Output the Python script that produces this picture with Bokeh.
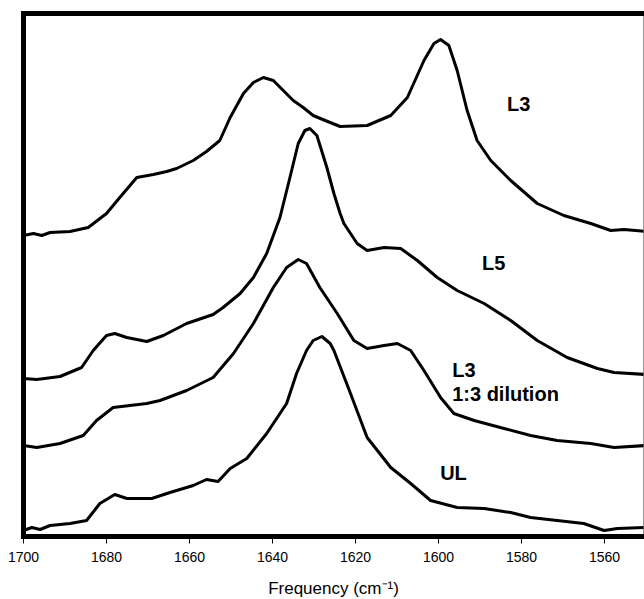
from bokeh.plotting import figure
from bokeh.models import Range1d, LinearAxis, FixedTicker, Label
from bokeh.layouts import column
from bokeh.embed import file_html
from bokeh.resources import INLINE

# ---- data (wavenumber in cm-1, intensity in arbitrary stacked units) ----
l3_freq = [1700, 1697.6, 1695.6, 1693.6, 1688.8, 1684.4, 1680.0, 1676.8, 1672.7, 1668.7,
           1665.5, 1663.1, 1659.1, 1655.9, 1652.7, 1650.2, 1647.0, 1644.6, 1642.2, 1639.8,
           1637.4, 1635.0, 1632.6, 1630.2, 1627.3, 1623.7, 1617.2, 1611.5, 1607.5, 1603.5,
           1601.1, 1599.5, 1597.5, 1595.5, 1593.1, 1590.7, 1587.4, 1582.6, 1576.2, 1569.8,
           1563.3, 1558.5, 1555.3, 1550]
l3_int = [3.01, 3.03, 3.01, 3.04, 3.05, 3.09, 3.23, 3.39, 3.59, 3.62,
          3.65, 3.68, 3.76, 3.85, 3.96, 4.19, 4.43, 4.54, 4.59, 4.56,
          4.46, 4.36, 4.29, 4.21, 4.16, 4.10, 4.11, 4.21, 4.39, 4.76,
          4.93, 4.97, 4.91, 4.66, 4.26, 3.96, 3.76, 3.56, 3.33, 3.21,
          3.13, 3.06, 3.07, 3.05]

l5_freq = [1700, 1696.8, 1691.2, 1686.0, 1683.2, 1680.0, 1678.0, 1675.1, 1670.3, 1666.3,
           1660.7, 1654.3, 1651.9, 1647.8, 1644.6, 1641.4, 1638.2, 1635.8, 1633.8, 1632.2,
           1631.0, 1629.3, 1626.9, 1625.2, 1623.7, 1622.8, 1619.6, 1617.2, 1613.1, 1609.1,
           1605.1, 1600.3, 1595.5, 1589.0, 1582.6, 1576.2, 1569.0, 1561.7, 1557.7, 1550]
l5_int = [1.58, 1.57, 1.60, 1.69, 1.86, 2.01, 2.03, 1.99, 1.95, 2.01,
          2.13, 2.22, 2.29, 2.43, 2.59, 2.83, 3.19, 3.59, 3.93, 4.06,
          4.08, 4.01, 3.69, 3.43, 3.23, 3.13, 2.93, 2.86, 2.89, 2.88,
          2.76, 2.59, 2.46, 2.33, 2.16, 1.96, 1.79, 1.68, 1.64, 1.62]

dil_freq = [1700, 1696.8, 1691.2, 1685.6, 1682.4, 1678.4, 1670.3, 1667.1, 1660.7, 1654.3,
            1649.4, 1644.6, 1639.8, 1636.6, 1633.8, 1631.8, 1628.6, 1624.4, 1620.4,
            1617.2, 1613.1, 1609.9, 1606.7, 1603.5, 1599.5, 1596.3, 1591.4, 1584.2, 1577.8,
            1571.4, 1563.3, 1557.7, 1550]
dil_int = [0.91, 0.89, 0.93, 1.01, 1.16, 1.29, 1.33, 1.36, 1.46, 1.59,
           1.83, 2.13, 2.49, 2.69, 2.77, 2.73, 2.49, 2.23, 1.96,
           1.88, 1.91, 1.93, 1.86, 1.66, 1.39, 1.23, 1.16, 1.08, 1.01,
           0.96, 0.93, 0.89, 0.91]

ul_freq = [1700, 1698.0, 1696.0, 1693.6, 1688.8, 1684.8, 1681.6, 1678.0, 1675.1, 1669.1,
           1664.7, 1659.1, 1655.9, 1653.1, 1650.2, 1646.2, 1641.4, 1636.6, 1634.2, 1631.8,
           1630.2, 1628.1, 1626.1, 1625.2, 1621.2, 1617.2, 1611.5, 1606.7, 1601.9, 1595.5,
           1589.0, 1582.6, 1577.8, 1571.4, 1565.0, 1560.1, 1556.9, 1550]
ul_int = [0.06, 0.09, 0.07, 0.11, 0.13, 0.16, 0.33, 0.42, 0.38, 0.38,
          0.44, 0.51, 0.57, 0.55, 0.68, 0.78, 1.03, 1.33, 1.63, 1.86,
          1.96, 2.00, 1.93, 1.86, 1.43, 0.99, 0.69, 0.53, 0.36, 0.29,
          0.28, 0.24, 0.19, 0.16, 0.13, 0.06, 0.08, 0.09]

x_ticks = [1700, 1680, 1660, 1640, 1620, 1600, 1580, 1560]
x_title = "Frequency (cm\u207b\u00b9)"

FONT = "Liberation Sans"
W = 644
BORDER_L, BORDER_R = 23, 1

p = figure(width=W, height=570,
           x_range=Range1d(1700, 1550.6), y_range=Range1d(0, 5.23),
           output_backend="svg", toolbar_location=None,
           min_border_left=BORDER_L, min_border_right=BORDER_R,
           min_border_top=13, min_border_bottom=34)

p.xgrid.visible = False
p.ygrid.visible = False
p.outline_line_color = "#9a9a9a"
p.outline_line_width = 1
p.background_fill_color = "white"
p.border_fill_color = "white"

# bottom axis
xa = p.xaxis[0]
xa.ticker = FixedTicker(ticks=x_ticks)
xa.axis_line_width = 5
xa.axis_line_color = "black"
xa.axis_line_cap = "square"
xa.major_tick_in = 0
xa.major_tick_out = 7
xa.major_tick_line_color = "black"
xa.major_tick_line_width = 1
xa.minor_tick_line_color = None
xa.major_label_text_font = FONT
xa.major_label_text_font_size = "14px"
xa.major_label_text_color = "black"
xa.major_label_standoff = 8


def bare(ax):
    ax.ticker = FixedTicker(ticks=[])
    ax.axis_line_width = 5
    ax.axis_line_color = "black"
    ax.axis_line_cap = "square"
    ax.major_tick_line_color = None
    ax.minor_tick_line_color = None
    ax.major_tick_in = 0
    ax.major_tick_out = 0
    ax.minor_tick_in = 0
    ax.minor_tick_out = 0
    ax.major_label_standoff = 0


bare(p.yaxis[0])
top_axis = LinearAxis()
bare(top_axis)
p.add_layout(top_axis, "above")

for fx, iy in [(l3_freq, l3_int), (l5_freq, l5_int), (dil_freq, dil_int), (ul_freq, ul_int)]:
    p.line(fx, iy, line_color="black", line_width=3, line_join="round", line_cap="round")

labels = [("L3", 1583.5, 4.33), ("L5", 1589.5, 2.74), ("L3", 1596.7, 1.67),
          ("1:3 dilution", 1596.7, 1.43), ("UL", 1599.6, 0.64)]
for t, lx, ly in labels:
    p.add_layout(Label(x=lx, y=ly, text=t, text_font=FONT, text_font_size="20px",
                       text_font_style="bold", text_color="black",
                       text_baseline="alphabetic", text_align="left"))

# strip below holding the x-axis title; the column aligns its frame with the
# plot frame above, so centre it on the frame width
TH = 29
t = figure(width=W, height=TH, x_range=Range1d(0, W), y_range=Range1d(0, TH),
           output_backend="svg", toolbar_location=None,
           x_axis_type=None, y_axis_type=None,
           min_border_left=0, min_border_right=0, min_border_top=0, min_border_bottom=0)
t.xgrid.visible = False
t.ygrid.visible = False
t.outline_line_color = None
t.background_fill_color = "white"
t.border_fill_color = "white"
t.add_layout(Label(x=(W - BORDER_L - BORDER_R) / 2, y=TH - 18,
                   x_units="screen", y_units="screen", text=x_title,
                   text_font=FONT, text_font_size="17px", text_color="black",
                   text_align="center", text_baseline="middle"))

layout = column(p, t, spacing=0)
open("out.html", "w").write(file_html(layout, INLINE))
